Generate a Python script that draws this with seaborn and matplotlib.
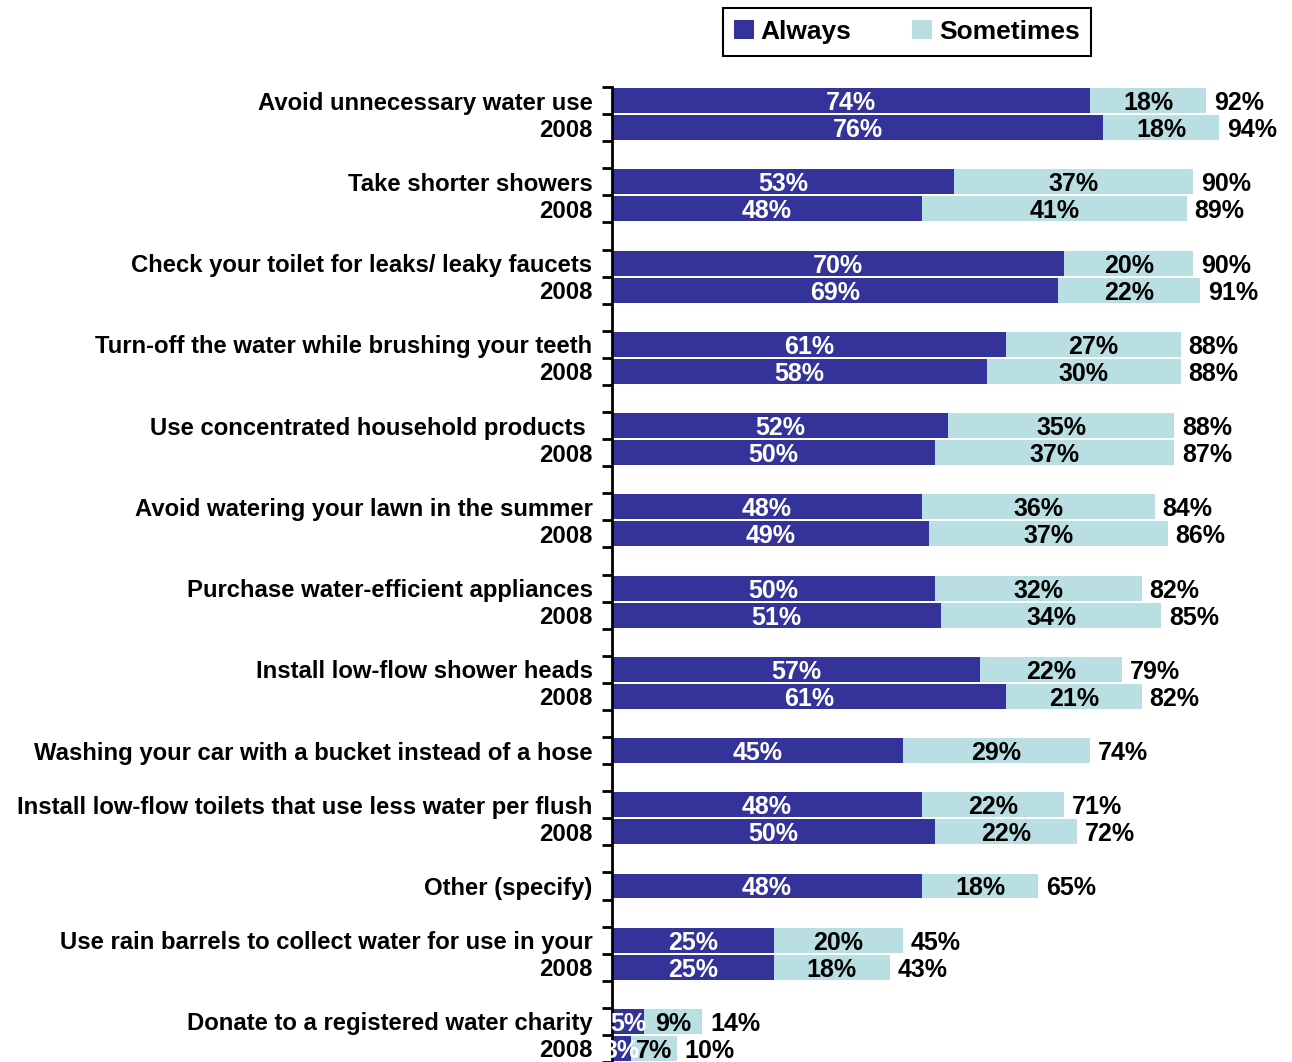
import numpy as np
import pandas as pd
import matplotlib
matplotlib.use("Agg")
import matplotlib.pyplot as plt
from matplotlib.patches import Patch
import seaborn as sns

# Data (Always / Sometimes, %); None = no 2008 row
items = [
    "Avoid unnecessary water use",
    "Take shorter showers",
    "Check your toilet for leaks/ leaky faucets",
    "Turn-off the water while brushing your teeth",
    "Use concentrated household products ",
    "Avoid watering your lawn in the summer",
    "Purchase water-efficient appliances",
    "Install low-flow shower heads",
    "Washing your car with a bucket instead of a hose",
    "Install low-flow toilets that use less water per flush",
    "Other (specify)",
    "Use rain barrels to collect water for use in your",
    "Donate to a registered water charity",
]
always_now = [74, 53, 70, 61, 52, 48, 50, 57, 45, 48, 48, 25, 5]
sometimes_now = [18, 37, 20, 27, 35, 36, 32, 22, 29, 22, 18, 20, 9]
total_now = [92, 90, 90, 88, 88, 84, 82, 79, 74, 71, 65, 45, 14]
always_2008 = [76, 48, 69, 58, 50, 49, 51, 61, None, 50, None, 25, 3]
sometimes_2008 = [18, 41, 22, 30, 37, 37, 34, 21, None, 22, None, 18, 7]
total_2008 = [94, 89, 91, 88, 87, 86, 85, 82, None, 72, None, 43, 10]

ALWAYS = "#333399"
SOMETIMES = "#B9DFE2"

# build rows: each item, then its 2008 row, then a blank slot
rows = []
slot = 0
for i, name in enumerate(items):
    rows.append(dict(slot=slot, label=name, always=always_now[i],
                     sometimes=sometimes_now[i], total=total_now[i]))
    slot += 1
    if always_2008[i] is not None:
        rows.append(dict(slot=slot, label="2008", always=always_2008[i],
                         sometimes=sometimes_2008[i], total=total_2008[i]))
        slot += 1
    slot += 1
n_slots = slot - 1
df = pd.DataFrame(rows)
df["stack"] = df["always"] + df["sometimes"]

plt.rcParams["font.family"] = ["Liberation Sans", "DejaVu Sans"]
fig = plt.figure(figsize=(12.92, 10.62), dpi=100)
ax = fig.add_axes([0.4737, 0.0, 0.5, 0.918])

sns.barplot(data=df, x="stack", y="slot", orient="h", native_scale=True,
            color=SOMETIMES, width=0.92, saturation=1, ax=ax)
sns.barplot(data=df, x="always", y="slot", orient="h", native_scale=True,
            color=ALWAYS, width=0.92, saturation=1, ax=ax)

VAL_FS = 18
for _, r in df.iterrows():
    ax.text(r["always"] / 2, r["slot"], f"{r['always']}%", color="white",
            ha="center", va="center_baseline", fontsize=VAL_FS, fontweight="bold")
    ax.text(r["always"] + r["sometimes"] / 2, r["slot"], f"{r['sometimes']}%",
            color="black", ha="center", va="center_baseline", fontsize=VAL_FS,
            fontweight="bold")
    ax.text(r["stack"] + 1.2, r["slot"], f"{r['total']}%", color="black",
            ha="left", va="center_baseline", fontsize=VAL_FS, fontweight="bold")

ax.set_xlim(0, 100)
ax.set_ylim(n_slots - 0.5, -0.5)
ax.set_xlabel("")
ax.set_ylabel("")
ax.set_xticks([])

# ticks at slot boundaries, labels at slot centres
ax.set_yticks(np.arange(-0.5, n_slots, 1.0))
ax.set_yticklabels([])
ax.tick_params(axis="y", which="major", length=7, width=2, direction="out")
ax.set_yticks(df["slot"], minor=True)
ax.set_yticklabels(df["label"], minor=True, fontsize=17.2, fontweight="bold",
                   va="center_baseline")
ax.tick_params(axis="y", which="minor", length=0, pad=14)

for s in ["top", "right", "bottom"]:
    ax.spines[s].set_visible(False)
ax.spines["left"].set_linewidth(2)
ax.spines["left"].set_color("black")

handles = [Patch(facecolor=ALWAYS, label="Always"),
           Patch(facecolor=SOMETIMES, label="Sometimes")]
leg = fig.legend(handles=handles, loc="center", bbox_to_anchor=(0.702, 0.970),
                 ncol=2, frameon=True, fancybox=False, framealpha=1,
                 edgecolor="black", handlelength=0.75, handleheight=0.75,
                 handletextpad=0.25, columnspacing=2.3,
                 prop=dict(size=19, weight="bold"), borderpad=0.45)
leg.get_frame().set_linewidth(1.5)

fig.savefig("out.png", dpi=100)
